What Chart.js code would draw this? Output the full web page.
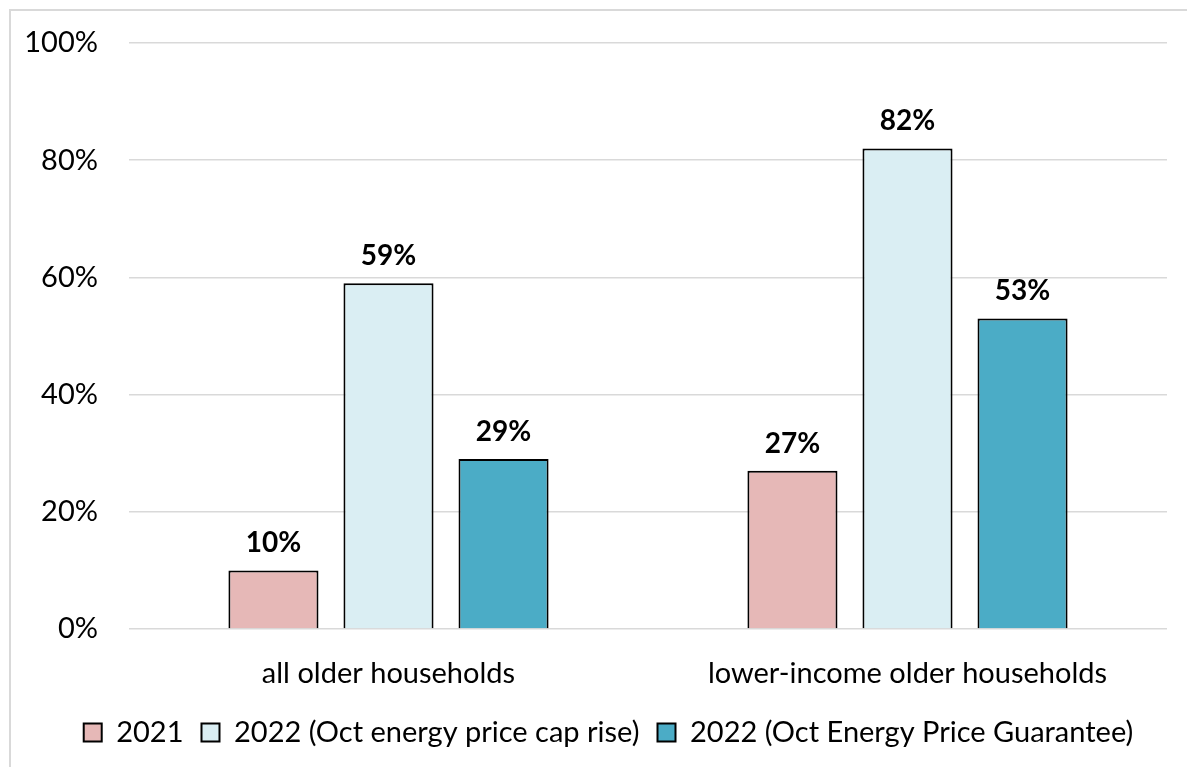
<!DOCTYPE html>
<html>
<head>
<meta charset="utf-8">
<script src="https://cdn.jsdelivr.net/npm/chart.js@4/dist/chart.umd.min.js"></script>
<style>
  html, body { margin: 0; padding: 0; background: #fff; }
  #wrap { width: 1187px; height: 767px; position: relative; }
</style>
</head>
<body>
<div id="wrap"><canvas id="chart"></canvas></div>
<script>
const CATEGORIES = ['all older households', 'lower-income older households'];

const SERIES_NAMES = [
  '2021',
  '2022 (Oct energy price cap rise)',
  '2022 (Oct Energy Price Guarantee)',
];

const VALUES_2021      = [10, 27];
const VALUES_CAP_RISE  = [59, 82];
const VALUES_GUARANTEE = [29, 53];

const Y_TICKS = [0, 20, 40, 60, 80, 100];

const COLORS = ['#E6B8B7', '#DAEEF3', '#4BACC6'];

const FONT = 'Lato';

// thin grey frame round the chart
const frame = {
  id: 'frame',
  beforeDraw(chart) {
    const ctx = chart.ctx;
    ctx.save();
    ctx.strokeStyle = '#d9d9d9';
    ctx.lineWidth = 2;
    ctx.strokeRect(10, 10, 1400, 1000);
    ctx.restore();
  }
};

// the frame runs on past the right edge, so centre the legend on it
const legendShift = {
  id: 'legendShift',
  afterLayout(chart) {
    chart.legend.left += 20;
    chart.legend.right += 20;
  }
};

// bold value labels above each bar
const barLabels = {
  id: 'barLabels',
  afterDatasetsDraw(chart) {
    const ctx = chart.ctx;
    ctx.save();
    ctx.font = `bold 28px ${FONT}`;
    ctx.fillStyle = '#000';
    ctx.textAlign = 'center';
    ctx.textBaseline = 'alphabetic';
    chart.data.datasets.forEach((ds, i) => {
      chart.getDatasetMeta(i).data.forEach((bar, j) => {
        ctx.fillText(ds.data[j] + '%', bar.x, bar.y - 18);
      });
    });
    ctx.restore();
  }
};

const datasets = [VALUES_2021, VALUES_CAP_RISE, VALUES_GUARANTEE].map((vals, i) => ({
  label: SERIES_NAMES[i],
  data: vals,
  backgroundColor: COLORS[i],
  borderColor: '#000',
  borderWidth: 2,
  categoryPercentage: 0.665,
  barPercentage: 0.783,
}));

new Chart(document.getElementById('chart'), {
  type: 'bar',
  data: { labels: CATEGORIES, datasets },
  plugins: [frame, legendShift, barLabels],
  options: {
    responsive: true,
    maintainAspectRatio: false,
    animation: false,
    layout: { padding: { top: 43, left: 10, right: 20, bottom: 10 } },
    plugins: {
      legend: {
        position: 'bottom',
        labels: {
          color: '#000',
          font: { family: FONT, size: 29 },
          boxWidth: 18,
          boxHeight: 18,
          padding: 18,
        }
      },
      tooltip: { enabled: false },
    },
    scales: {
      x: {
        afterFit: s => { s.height = 71; },
        grid: { display: false },
        border: { display: false },
        ticks: {
          color: '#000',
          font: { family: FONT, size: 29 },
          padding: 19,
          maxRotation: 0,
        }
      },
      y: {
        min: 0,
        max: 100,
        afterFit: s => {
          s.width = 119;
          // tick padding is only wanted sideways, not above/below the plot
          s.paddingTop = 18;
          s.paddingBottom = 18;
        },
        afterBuildTicks: s => { s.ticks = Y_TICKS.map(v => ({ value: v })); },
        grid: { color: '#d9d9d9', lineWidth: 1.5, drawTicks: false },
        border: { display: false },
        ticks: {
          color: '#000',
          font: { family: FONT, size: 29 },
          padding: 31,
          callback: v => v + '%',
        }
      }
    }
  }
});
</script>
</body>
</html>
